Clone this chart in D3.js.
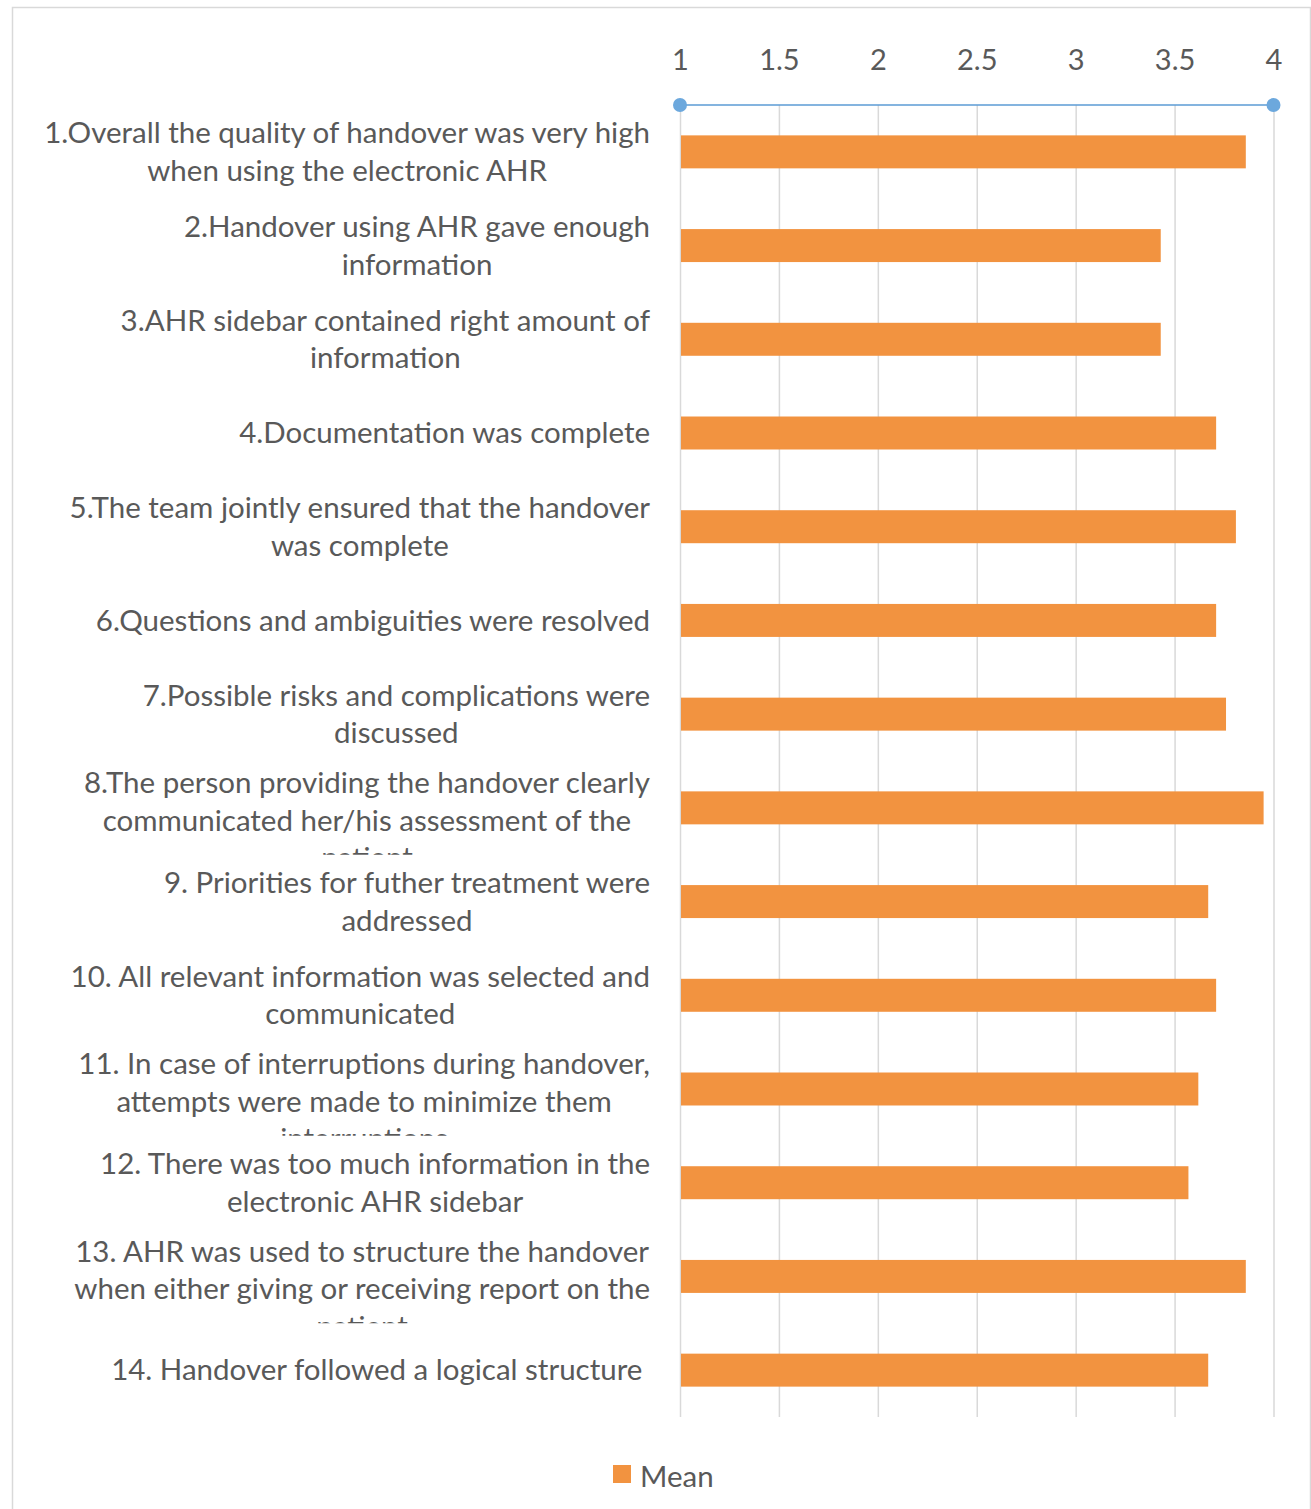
<!DOCTYPE html>
<html>
<head>
<meta charset="utf-8">
<script src="https://cdn.jsdelivr.net/npm/d3@7"></script>
<style>
  body { margin: 0; background: #fff; }
  text { font-family: Lato, "Open Sans", sans-serif; fill: #595959; }
</style>
</head>
<body>
<svg class="chart"></svg>
<script>
// Chart data: one label (split into lines, as wrapped in the original) and one mean per item
var labels = [
  ["1.Overall the quality of handover was very high", "when using the electronic AHR"],
  ["2.Handover using AHR gave enough", "information"],
  ["3.AHR sidebar contained right amount of", "information"],
  ["4.Documentation was complete"],
  ["5.The team jointly ensured that the handover", "was complete"],
  ["6.Questions and ambiguities were resolved"],
  ["7.Possible risks and complications were", "discussed"],
  ["8.The person providing the handover clearly", "communicated her/his assessment of the", "patient"],
  ["9. Priorities for futher treatment were", "addressed"],
  ["10. All relevant information was selected and", "communicated"],
  ["11. In case of interruptions during handover,", "attempts were made to minimize them", "interruptions"],
  ["12. There was too much information in the", "electronic AHR sidebar"],
  ["13. AHR was used to structure the handover", "when either giving or receiving report on the", "patient"],
  ["14. Handover followed a logical structure\u00a0"]
];
var means = [3.86, 3.43, 3.43, 3.71, 3.81, 3.71, 3.76, 3.95, 3.67, 3.71, 3.62, 3.57, 3.86, 3.67];
var tickValues = [1, 1.5, 2, 2.5, 3, 3.5, 4];
var seriesName = "Mean";

var W = 1311, H = 1509;
var margin = {top: 105, left: 680, right: 37.5, bottom: 92};
var width = W - margin.left - margin.right,
  height = H - margin.top - margin.bottom;
var fontSize = 29.5, lineHeight = 37.5;
var orange = "#f29340", blue = "#5b9bd5", grid = "#d9d9d9";

var chart = d3.select(".chart")
  .attr("width", W)
  .attr("height", H);

// outer frame
chart.append("rect")
  .attr("x", 12.5).attr("y", 7.5)
  .attr("width", 1298).attr("height", 1510)
  .attr("fill", "none")
  .attr("stroke", grid)
  .attr("stroke-width", 1.5);

var body = chart.append("g")
  .attr("transform", "translate(" + margin.left + "," + margin.top + ")");

var x = d3.scaleLinear().domain([1, 4]).range([0, width]);
var y = d3.scaleBand()
  .domain(d3.range(labels.length))
  .range([0, height])
  .paddingInner(0.648)
  .paddingOuter(0.324);

// vertical gridlines
body.append("g")
  .attr("class", "grid")
  .attr("transform", "translate(0," + height + ")")
  .call(d3.axisBottom(x).tickValues(tickValues).tickSize(-height).tickFormat(""))
  .call(function(g) { g.select(".domain").remove(); })
  .selectAll("line")
    .attr("stroke", grid)
    .attr("stroke-width", 1.5);

// bars
body.selectAll(".bar")
  .data(means)
  .enter().append("rect")
    .attr("class", "bar")
    .attr("x", x(1) + 1)
    .attr("y", function(d, i) { return y(i); })
    .attr("width", function(d) { return x(d) - x(1) - 1; })
    .attr("height", y.bandwidth())
    .attr("fill", orange);

// top axis: labels, line and end markers
var xAxis = body.append("g")
  .attr("transform", "translate(0,-35)")
  .call(d3.axisTop(x).tickValues(tickValues).tickSize(0).tickFormat(d3.format("")))
  .call(function(g) { g.select(".domain").remove(); });
xAxis.selectAll("text")
  .attr("y", 0)
  .attr("dy", 0)
  .style("font-size", "29px")
  .style("font-family", "Lato, sans-serif")
  .attr("fill", "#595959");

body.append("line")
  .attr("x1", x(1)).attr("x2", x(4))
  .attr("y1", 0).attr("y2", 0)
  .attr("stroke", blue)
  .attr("stroke-width", 1.5);
body.selectAll(".marker")
  .data([1, 4])
  .enter().append("circle")
    .attr("cx", function(d) { return x(d); })
    .attr("cy", 0)
    .attr("r", 7)
    .attr("fill", "#6ca8dd");

// category labels, lines centered inside a block right-aligned to the plot
var defs = chart.append("defs");
var step = y.step();
var labelRight = margin.left - 30;

labels.forEach(function(lines, i) {
  var cy = margin.top + y(i) + y.bandwidth() / 2;
  defs.append("clipPath").attr("id", "clip" + i)
    .append("rect")
      .attr("x", 0).attr("y", cy - step / 2)
      .attr("width", margin.left).attr("height", step);

  var g = chart.append("g").attr("clip-path", "url(#clip" + i + ")");
  var shift = lines.length > 2 ? lineHeight / 3 : 0;
  var top = cy - (lines.length - 1) / 2 * lineHeight + shift;
  var texts = g.selectAll("text")
    .data(lines)
    .enter().append("text")
      .attr("y", function(d, j) { return top + j * lineHeight; })
      .attr("dy", "0.35em")
      .attr("text-anchor", "middle")
      .style("font-size", fontSize + "px")
      .text(function(d) { return d; });
  var blockWidth = d3.max(texts.nodes(), function(n) { return n.getComputedTextLength(); });
  texts.attr("x", labelRight - blockWidth / 2);
});

// legend
var legend = chart.append("g")
  .attr("transform", "translate(613,1465)");
legend.append("rect")
  .attr("width", 18).attr("height", 18)
  .attr("fill", orange);
legend.append("text")
  .attr("x", 27).attr("y", 21.5)
  .style("font-size", "29.5px")
  .text(seriesName);
</script>
</body>
</html>
